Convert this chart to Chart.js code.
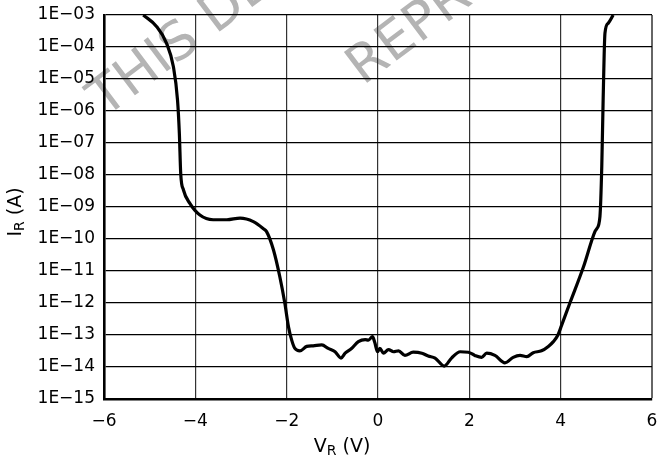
<!DOCTYPE html>
<html>
<head>
<meta charset="utf-8">
<script src="https://cdn.jsdelivr.net/npm/chart.js@4.4.1/dist/chart.umd.min.js"></script>
<style>
  html, body { margin: 0; padding: 0; background: #ffffff; }
  #wrap { width: 658px; height: 462px; position: relative; }
</style>
</head>
<body>
<div id="wrap"><canvas id="c" width="658" height="462"></canvas></div>
<script>
// Reverse voltage V_R (V)
const voltage = [
  -5.14, -4.85, -4.63, -4.48, -4.39, -4.35, -4.32, -4.26, -4.12, -3.90,
  -3.61, -3.31, -3.02, -2.73, -2.51, -2.44, -2.29, -2.15, -2.04, -1.96,
  -1.89, -1.82, -1.71, -1.56, -1.42, -1.23, -1.09, -0.94, -0.81, -0.72,
  -0.58, -0.43, -0.28, -0.21, -0.12, -0.07, -0.01, 0.04, 0.12, 0.23,
  0.34, 0.45, 0.59, 0.77, 0.96, 1.10, 1.25, 1.45, 1.61, 1.80,
  1.98, 2.12, 2.27, 2.38, 2.56, 2.78, 2.96, 3.11, 3.26, 3.40,
  3.58, 3.73, 3.84, 3.94, 4.02, 4.20, 4.50, 4.75, 4.79, 4.86,
  4.90, 4.93, 4.97, 5.04, 5.15
];
// Reverse current I_R (A)
const current = [
  1.0e-3, 4.4e-4, 1.3e-4, 2.4e-5, 2.2e-6, 2.0e-7, 1.1e-8, 3.4e-9, 1.3e-9, 5.6e-10,
  4.0e-10, 4.0e-10, 4.5e-10, 3.5e-10, 2.1e-10, 1.7e-10, 4.6e-11, 6.6e-12, 9.8e-13, 1.8e-13,
  6.9e-14, 3.8e-14, 3.2e-14, 4.4e-14, 4.6e-14, 4.9e-14, 3.8e-14, 3.0e-14, 1.9e-14, 2.7e-14,
  3.8e-14, 6.2e-14, 7.2e-14, 6.9e-14, 8.9e-14, 5.8e-14, 3.0e-14, 3.8e-14, 2.7e-14, 3.5e-14,
  3.0e-14, 3.2e-14, 2.3e-14, 2.9e-14, 2.7e-14, 2.2e-14, 1.9e-14, 1.07e-14, 1.9e-14, 3.0e-14,
  2.9e-14, 2.3e-14, 2.0e-14, 2.7e-14, 2.3e-14, 1.35e-14, 2.0e-14, 2.3e-14, 2.1e-14, 2.8e-14,
  3.2e-14, 4.4e-14, 6.2e-14, 1.0e-13, 2.0e-13, 9.8e-13, 1.35e-11, 1.7e-10, 2.1e-10, 5.0e-10,
  1.8e-8, 2.2e-6, 2.7e-4, 5.5e-4, 1.0e-3
];
const xTickValues = [-6, -4, -2, 0, 2, 4, 6];
const xTickLabels = ['\u22126', '\u22124', '\u22122', '0', '2', '4', '6'];
const yTickValues = [1e-15, 1e-14, 1e-13, 1e-12, 1e-11, 1e-10, 1e-9, 1e-8, 1e-7, 1e-6, 1e-5, 1e-4, 1e-3];
const yTickLabels = ['1E\u221215', '1E\u221214', '1E\u221213', '1E\u221212', '1E\u221211', '1E\u221210',
  '1E\u221209', '1E\u221208', '1E\u221207', '1E\u221206', '1E\u221205', '1E\u221204', '1E\u221203'];
const watermarkTexts = ['THIS DEVICE', 'REPRODUCED'];
const xTitle = ['V', 'R', ' (V)'];
const yTitle = ['I', 'R', ' (A)'];

const FONT = "'DejaVu Sans', sans-serif";

const points = voltage.map((v, i) => ({ x: v, y: current[i] }));

const watermarkPlugin = {
  id: 'watermark',
  beforeDraw(chart) {
    const ctx = chart.ctx;
    const ang = -37 * Math.PI / 180;
    const spots = [[105, 118], [363, 86]];
    watermarkTexts.forEach((t, i) => {
      ctx.save();
      ctx.fillStyle = '#b4b4b4';
      ctx.font = '53px ' + FONT;
      ctx.textBaseline = 'alphabetic';
      ctx.textAlign = 'left';
      ctx.translate(spots[i][0], spots[i][1]);
      ctx.rotate(ang);
      ctx.fillText(t, 0, 0);
      ctx.restore();
    });
  }
};

function measureParts(ctx, parts, big, small) {
  ctx.font = big + 'px ' + FONT;
  const w0 = ctx.measureText(parts[0]).width;
  ctx.font = small + 'px ' + FONT;
  const w1 = ctx.measureText(parts[1]).width;
  ctx.font = big + 'px ' + FONT;
  const w2 = ctx.measureText(parts[2]).width;
  return { w0, w1, w2, total: w0 + w1 + w2 };
}

const titlePlugin = {
  id: 'titles',
  afterDraw(chart) {
    const ctx = chart.ctx;
    ctx.save();
    ctx.fillStyle = '#000';
    ctx.textAlign = 'left';
    ctx.textBaseline = 'alphabetic';
    // X title
    let m = measureParts(ctx, xTitle, 19, 14);
    let sx = 342 - m.total / 2, by = 452;
    ctx.font = '19px ' + FONT; ctx.fillText(xTitle[0], sx, by);
    ctx.font = '14px ' + FONT; ctx.fillText(xTitle[1], sx + m.w0, by + 3);
    ctx.font = '19px ' + FONT; ctx.fillText(xTitle[2], sx + m.w0 + m.w1, by);
    // Y title (rotated)
    m = measureParts(ctx, yTitle, 19, 14);
    ctx.translate(21, 212);
    ctx.rotate(-Math.PI / 2);
    sx = -m.total / 2;
    ctx.font = '19px ' + FONT; ctx.fillText(yTitle[0], sx, 0);
    ctx.font = '14px ' + FONT; ctx.fillText(yTitle[1], sx + m.w0, 3);
    ctx.font = '19px ' + FONT; ctx.fillText(yTitle[2], sx + m.w0 + m.w1, 0);
    ctx.restore();
  }
};

new Chart(document.getElementById('c'), {
  type: 'line',
  data: {
    datasets: [{
      data: points,
      borderColor: '#000',
      borderWidth: 3.2,
      pointRadius: 0,
      fill: false,
      cubicInterpolationMode: 'monotone'
    }]
  },
  options: {
    responsive: false,
    animation: false,
    devicePixelRatio: 1,
    layout: { padding: { top: 15, right: 6, left: 0, bottom: 0 } },
    plugins: { legend: { display: false }, tooltip: { enabled: false } },
    scales: {
      x: {
        type: 'linear',
        min: -6, max: 6,
        afterFit(s) { s.height = 63; s.paddingLeft = 0; s.paddingRight = 0; },
        afterBuildTicks(s) { s.ticks = xTickValues.map(v => ({ value: v })); },
        ticks: {
          autoSkip: false,
          maxRotation: 0,
          padding: 12,
          color: '#000',
          font: { family: FONT, size: 17 },
          callback: (v, i) => xTickLabels[i]
        },
        grid: {
          drawTicks: false,
          color: (c) => (c.tick && c.tick.value === 6) ? '#666' : '#333',
          lineWidth: (c) => (c.tick && c.tick.value === 6) ? 2 : 1.2
        },
        border: { display: true, color: '#000', width: 2.6 }
      },
      y: {
        type: 'logarithmic',
        min: 1e-15, max: 1e-3,
        afterFit(s) { s.width = 104; s.paddingTop = 0; s.paddingBottom = 0; },
        afterBuildTicks(s) { s.ticks = yTickValues.map(v => ({ value: v })); },
        ticks: {
          autoSkip: false,
          padding: 9,
          color: '#000',
          font: { family: FONT, size: 17 },
          callback: (v, i) => yTickLabels[i]
        },
        grid: { drawTicks: false, color: '#000', lineWidth: 1.2 },
        border: { display: true, color: '#000', width: 2.6 }
      }
    }
  },
  plugins: [watermarkPlugin, titlePlugin]
});
</script>
</body>
</html>
